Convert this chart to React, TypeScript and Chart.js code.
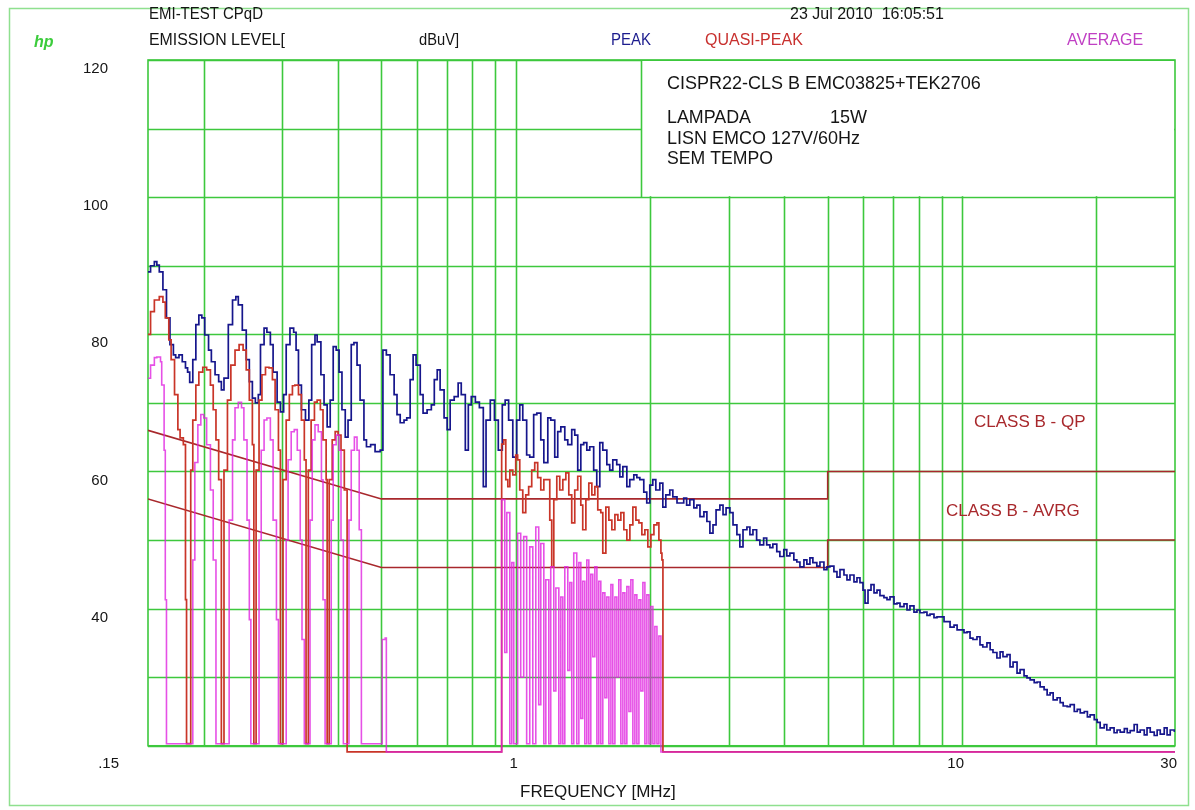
import React, { useEffect, useRef } from "react";
import { Chart, registerables } from "chart.js";

Chart.register(...registerables);

// ---------- DATA ----------
const peakFreqMHz = [
  0.150, 0.152, 0.155, 0.157, 0.159, 0.162, 0.165, 0.168, 0.171, 0.173, 0.176, 0.179, 0.182, 0.184, 0.186,
  0.189, 0.192, 0.195, 0.198, 0.201, 0.205, 0.208, 0.212, 0.216, 0.219, 0.222, 0.227, 0.232, 0.236, 0.239,
  0.244, 0.249, 0.253, 0.257, 0.261, 0.265, 0.268, 0.273, 0.277, 0.282, 0.286, 0.292, 0.297, 0.302, 0.306,
  0.312, 0.318, 0.322, 0.326, 0.331, 0.338, 0.344, 0.349, 0.355, 0.359, 0.366, 0.372, 0.378, 0.384, 0.390,
  0.396, 0.402, 0.408, 0.415, 0.421, 0.428, 0.434, 0.441, 0.448, 0.457, 0.463, 0.473, 0.484, 0.491, 0.497,
  0.504, 0.513, 0.523, 0.534, 0.542, 0.551, 0.562, 0.570, 0.580, 0.589, 0.598, 0.611, 0.620, 0.633, 0.647,
  0.657, 0.667, 0.677, 0.691, 0.702, 0.713, 0.728, 0.743, 0.755, 0.771, 0.783, 0.795, 0.812, 0.829, 0.846,
  0.858, 0.877, 0.896, 0.914, 0.933, 0.947, 0.964, 0.985, 1.005, 1.021, 1.037, 1.058, 1.075, 1.097, 1.115,
  1.138, 1.156, 1.180, 1.198, 1.223, 1.242, 1.262, 1.288, 1.308, 1.335, 1.356, 1.377, 1.399, 1.420, 1.443,
  1.465, 1.495, 1.519, 1.543, 1.567, 1.600, 1.624, 1.650, 1.684, 1.711, 1.738, 1.774, 1.801, 1.839, 1.868,
  1.897, 1.936, 1.966, 1.997, 2.028, 2.060, 2.103, 2.136, 2.169, 2.214, 2.249, 2.298, 2.332, 2.379, 2.415,
  2.455, 2.507, 2.546, 2.587, 2.640, 2.681, 2.723, 2.767, 2.811, 2.867, 2.914, 2.960, 3.019, 3.068, 3.130,
  3.178, 3.230, 3.296, 3.347, 3.400, 3.465, 3.524, 3.593, 3.650, 3.711, 3.768, 3.845, 3.907, 3.987, 4.049,
  4.114, 4.199, 4.264, 4.333, 4.423, 4.491, 4.562, 4.632, 4.727, 4.804, 4.904, 4.981, 5.058, 5.163, 5.245,
  5.327, 5.438, 5.523, 5.609, 5.726, 5.815, 5.906, 5.999, 6.062, 6.156, 6.252, 6.350, 6.449, 6.548, 6.684,
  6.789, 6.896, 7.039, 7.149, 7.261, 7.412, 7.528, 7.644, 7.803, 7.925, 8.049, 8.216, 8.344, 8.477, 8.652,
  8.788, 8.927, 9.112, 9.256, 9.400, 9.596, 9.747, 9.897, 10.10, 10.26, 10.42, 10.58, 10.80, 10.97, 11.13,
  11.37, 11.56, 11.73, 11.97, 12.17, 12.35, 12.61, 12.81, 13.01, 13.28, 13.49, 13.77, 13.98, 14.21, 14.51,
  14.73, 14.96, 15.27, 15.51, 15.75, 16.00, 16.33, 16.59, 16.85, 17.20, 17.47, 17.84, 18.12, 18.40, 18.79,
  19.09, 19.36, 19.78, 20.08, 20.39, 20.82, 21.10, 21.47, 21.91, 22.25, 22.61, 23.10, 23.45, 23.81, 24.30,
  24.69, 25.07, 25.60, 25.97, 26.40, 26.95, 27.36, 27.80, 28.38, 28.80, 29.27, 29.90,
];
const peakDbuV = [
  89.1, 90.0, 90.6, 90.1, 89.1, 86.5, 82.4, 78.5, 77.0, 76.6, 77.0, 76.0, 75.1, 74.5, 73.0,
  76.3, 81.4, 82.8, 82.4, 79.9, 77.7, 76.0, 74.1, 73.1, 71.9, 73.6, 81.4, 85.0, 85.5, 84.3,
  80.6, 76.3, 73.1, 70.7, 70.0, 71.2, 78.5, 80.9, 80.3, 78.5, 74.5, 70.1, 68.7, 71.2, 78.5,
  80.9, 80.3, 77.7, 72.6, 69.0, 67.5, 70.4, 78.5, 79.9, 78.9, 74.1, 69.7, 66.5, 70.4, 78.2,
  77.7, 74.5, 69.0, 65.0, 67.5, 78.5, 78.8, 75.5, 70.4, 64.6, 63.6, 63.9, 62.9, 62.9, 63.1,
  77.7, 77.0, 74.1, 71.2, 68.3, 67.1, 67.5, 67.8, 73.4, 77.0, 75.5, 71.2, 68.5, 69.0, 69.7,
  73.4, 74.8, 71.9, 67.8, 66.1, 70.4, 70.9, 72.9, 71.2, 63.1, 69.7, 70.9, 70.1, 69.3, 57.8,
  67.5, 70.4, 67.5, 63.1, 69.7, 70.4, 67.5, 62.1, 67.5, 69.7, 67.5, 62.4, 62.1, 68.3, 68.5,
  64.6, 61.3, 67.8, 67.5, 62.1, 65.8, 66.5, 64.6, 63.9, 66.1, 65.3, 60.2, 63.9, 64.2, 63.1,
  63.6, 60.2, 57.8, 64.2, 63.1, 61.0, 60.2, 61.7, 61.0, 59.2, 60.7, 57.8, 58.8, 59.5, 59.1,
  58.8, 57.0, 55.4, 58.0, 58.8, 57.3, 58.3, 54.8, 56.6, 57.3, 56.3, 55.4, 55.4, 56.1, 55.1,
  55.9, 54.7, 55.1, 53.4, 54.1, 52.7, 51.0, 52.2, 54.4, 55.1, 53.7, 54.7, 54.0, 52.2, 50.8,
  49.0, 51.5, 51.9, 50.8, 51.5, 50.0, 49.3, 50.3, 49.3, 48.9, 49.4, 48.3, 47.6, 48.6, 47.7,
  48.1, 47.1, 46.8, 46.1, 47.1, 46.5, 47.4, 46.7, 46.2, 46.8, 45.7, 46.1, 46.2, 45.4, 44.6,
  45.7, 44.9, 44.2, 44.9, 43.9, 44.5, 43.8, 42.7, 40.8, 42.7, 43.5, 42.3, 42.7, 41.9, 41.6,
  41.3, 41.7, 40.7, 40.8, 40.3, 40.7, 39.8, 40.4, 39.5, 39.8, 39.4, 39.5, 39.0, 39.2, 38.7,
  38.8, 38.8, 38.1, 38.1, 37.3, 37.6, 36.9, 36.9, 36.5, 36.6, 35.7, 35.5, 35.9, 34.7, 34.4,
  35.0, 34.0, 33.6, 32.8, 33.7, 33.0, 33.3, 31.5, 32.2, 30.6, 31.1, 30.2, 29.9, 29.6, 29.2,
  29.3, 28.6, 28.2, 27.4, 27.7, 26.7, 27.0, 26.3, 25.8, 25.7, 26.0, 25.0, 25.3, 24.8, 25.0,
  24.2, 24.5, 23.8, 23.4, 22.6, 23.1, 22.3, 22.6, 21.9, 22.3, 22.0, 22.5, 21.9, 22.2, 23.1,
  22.0, 22.3, 21.6, 22.6, 22.0, 21.5, 22.3, 21.7, 22.6, 21.6, 22.3, 22.0,
];

const qpFreqMHz = [
  0.150, 0.152, 0.155, 0.159, 0.162, 0.164, 0.167, 0.169, 0.172, 0.175, 0.177, 0.180, 0.182, 0.183,
  0.187, 0.189, 0.192, 0.195, 0.199, 0.203, 0.207, 0.210, 0.213, 0.216, 0.219,
  0.222, 0.226, 0.230, 0.235, 0.240, 0.245, 0.249, 0.253, 0.257, 0.259,
  0.262, 0.266, 0.270, 0.275, 0.280, 0.285, 0.289, 0.294, 0.297,
  0.301, 0.306, 0.311, 0.316, 0.320, 0.326, 0.331, 0.336, 0.339,
  0.343, 0.348, 0.354, 0.359, 0.365, 0.370, 0.376, 0.378,
  0.382, 0.388, 0.394, 0.400, 0.406, 0.413, 0.419,
  0.930, 0.940, 0.950, 0.960, 0.970, 0.985, 1.000, 1.010, 1.021, 1.037, 1.053, 1.069, 1.086, 1.103,
  1.120, 1.138, 1.156, 1.174, 1.192, 1.204, 1.217, 1.236, 1.255, 1.275, 1.295, 1.315, 1.335, 1.356,
  1.377, 1.399, 1.413, 1.436, 1.458, 1.481, 1.504, 1.527, 1.551, 1.567, 1.592, 1.617, 1.642, 1.668,
  1.694, 1.720, 1.747, 1.774, 1.802, 1.830, 1.859, 1.888, 1.917, 1.947, 1.977, 2.008, 2.040, 2.072,
  2.093, 2.115, 2.126, 2.137, 30.0,
];
const qpDbuV = [
  80.0, 83.3, 85.0, 85.5, 84.7, 82.4, 79.2, 76.3, 71.2, 66.1, 64.9, 63.9, 41.3, 20.3,
  60.2, 67.5, 72.6, 74.5, 75.2, 74.8, 72.6, 69.0, 64.6, 58.8, 20.3,
  60.2, 70.4, 75.5, 77.7, 78.5, 77.7, 74.8, 70.4, 63.9, 20.3,
  60.2, 70.4, 74.1, 75.2, 75.1, 73.4, 69.0, 63.1, 20.3,
  58.8, 67.5, 71.2, 72.5, 72.6, 71.2, 67.5, 61.7, 20.3,
  60.2, 67.5, 70.1, 70.4, 69.0, 64.6, 58.8, 20.3,
  58.8, 64.6, 65.8, 65.3, 63.1, 57.3, 19.1,
  64.0, 64.6, 58.8, 57.8, 60.2, 59.5, 62.4, 61.7, 57.3, 54.0, 56.6, 57.8, 60.2, 61.3,
  59.1, 57.3, 58.8, 58.8, 52.9, 46.1, 55.9, 59.3, 57.3, 58.8, 59.8, 56.6, 52.5, 57.3,
  59.3, 55.1, 51.5, 55.9, 58.3, 56.6, 57.8, 54.4, 54.0, 48.1, 54.8, 52.9, 51.5, 53.7,
  52.9, 54.0, 51.5, 50.0, 52.2, 54.8, 52.9, 52.5, 50.8, 51.5, 49.0, 50.8, 52.2, 52.5,
  50.0, 48.1, 47.1, 19.1, 19.1,
];

const avgFreqMHz = [
  0.150, 0.152, 0.155, 0.157, 0.160, 0.161, 0.163, 0.164, 0.165,
  0.189, 0.191, 0.194, 0.197, 0.200, 0.203, 0.207, 0.210, 0.213,
  0.228, 0.232, 0.235, 0.239, 0.243, 0.246, 0.250, 0.253, 0.255,
  0.266, 0.269, 0.273, 0.277, 0.282, 0.286, 0.291, 0.294,
  0.306, 0.309, 0.314, 0.319, 0.324, 0.329, 0.332, 0.336,
  0.346, 0.350, 0.355, 0.361, 0.367, 0.370, 0.374,
  0.386, 0.390, 0.396, 0.402, 0.406, 0.411,
  0.423, 0.428, 0.435, 0.441, 0.446, 0.451,
  0.502, 0.510, 0.513,
  0.930, 0.945, 0.955, 0.970, 0.980, 0.990, 1.010, 1.026, 1.042, 1.058, 1.075, 1.092, 1.109, 1.126,
  1.138, 1.156, 1.168, 1.186, 1.198, 1.217, 1.230, 1.249, 1.262, 1.275, 1.288, 1.308, 1.322, 1.335,
  1.349, 1.370, 1.385, 1.399, 1.413, 1.428, 1.443, 1.458, 1.473, 1.488, 1.504, 1.520, 1.535, 1.551,
  1.567, 1.584, 1.600, 1.617, 1.634, 1.650, 1.668, 1.685, 1.702, 1.720, 1.738, 1.756, 1.774, 1.793,
  1.811, 1.830, 1.849, 1.868, 1.888, 1.907, 1.927, 1.947, 1.967, 1.988, 2.008, 2.029, 2.050, 2.072,
  2.093, 2.115, 30.0,
];
const avgDbuV = [
  73.6, 75.5, 76.6, 76.7, 76.0, 72.6, 63.1, 41.3, 20.3,
  47.1, 61.3, 66.8, 68.3, 67.8, 63.9, 57.3, 47.1, 20.3,
  52.9, 64.6, 69.3, 70.1, 69.3, 64.6, 52.9, 38.4, 20.3,
  50.0, 63.1, 67.5, 67.8, 64.6, 52.9, 38.4, 20.3,
  50.0, 61.7, 65.8, 66.1, 63.1, 50.0, 35.5, 20.3,
  52.9, 64.6, 66.8, 65.8, 58.8, 41.3, 20.3,
  52.9, 63.9, 65.3, 63.1, 50.0, 20.3,
  52.9, 63.1, 65.0, 63.1, 51.5, 20.3,
  35.5, 35.7, 19.1,
  55.9, 33.6, 54.0, 20.3, 46.7, 20.3, 51.0, 30.0, 50.5, 20.3, 49.0, 20.3, 51.9, 26.0,
  49.5, 20.3, 44.2, 20.3, 46.1, 28.0, 43.0, 20.3, 41.7, 20.3, 46.1, 31.0, 43.8, 20.3,
  48.1, 20.3, 46.7, 24.0, 44.0, 20.3, 47.1, 20.3, 45.0, 33.0, 46.1, 20.3, 44.0, 20.3,
  42.3, 27.0, 41.7, 20.3, 43.5, 20.3, 41.7, 30.0, 44.2, 20.3, 42.3, 20.3, 43.2, 25.0,
  44.2, 20.3, 42.0, 20.3, 41.3, 28.0, 43.8, 20.3, 42.0, 20.3, 40.3, 20.3, 37.4, 20.3,
  36.0, 19.1, 19.1,
];

const qpLimitFreqMHz = [0.15, 0.5, 5, 5, 30];
const qpLimitDbuV = [66, 56, 56, 60, 60];
const avgLimitFreqMHz = [0.15, 0.5, 5, 5, 30];
const avgLimitDbuV = [56, 46, 46, 50, 50];

const yGridValues = [20, 30, 40, 50, 60, 70, 80, 90, 100, 110, 120];
const yTickValues = [120, 100, 80, 60, 40];
const xGridValues = [0.2, 0.3, 0.4, 0.5, 0.6, 0.7, 0.8, 0.9, 1, 2, 3, 4, 5, 6, 7, 8, 9, 10, 20];
const xTickValues = [0.15, 1, 10, 30];
const xTickLabels = [".15", "1", "10", "30"];

// ---------- STYLE ----------
const GRID = "#3dc83d";
const FRAME = "#8fe08f";
const PEAK_C = "#16168c";
const QP_C = "#c93528";
const AVG_C = "rgba(224,36,224,0.8)";
const LIMIT_C = "#a8282c";
const FONT = "'Liberation Sans', Arial, sans-serif";

const toPoints = (f: number[], v: number[]) => f.map((x, i) => ({ x, y: v[i] }));

function txt(ctx: CanvasRenderingContext2D, s: string, x: number, y: number, w?: number) {
  if (w) ctx.fillText(s, x, y, w);
  else ctx.fillText(s, x, y);
}

const decorPlugin = {
  id: "decor",
  beforeDatasetsDraw(chart: any) {
    const { ctx, scales } = chart;
    const xs = scales.x;
    const ys = scales.y;
    const left = xs.getPixelForValue(0.15);
    const right = xs.getPixelForValue(30);
    const top = ys.getPixelForValue(120);
    const bot = ys.getPixelForValue(20);
    ctx.save();
    ctx.strokeStyle = GRID;
    ctx.lineWidth = 1.6;
    ctx.beginPath();
    for (const v of yGridValues) {
      const y = Math.round(ys.getPixelForValue(v)) + 0.5;
      ctx.moveTo(left, y);
      ctx.lineTo(right, y);
    }
    for (const f of xGridValues) {
      const x = Math.round(xs.getPixelForValue(f)) + 0.5;
      ctx.moveTo(x, top);
      ctx.lineTo(x, bot);
    }
    ctx.stroke();
    ctx.strokeRect(left, top, right - left, bot - top);

    // annotation box (covers grid)
    const bx = left + 493;
    const by = top;
    const bh = ys.getPixelForValue(100) - top;
    ctx.fillStyle = "#ffffff";
    ctx.fillRect(bx, by + 1, right - bx - 1, bh - 2);
    ctx.beginPath();
    ctx.moveTo(bx + 0.5, by);
    ctx.lineTo(bx + 0.5, by + bh);
    ctx.stroke();

    ctx.fillStyle = "#151515";
    ctx.textBaseline = "middle";
    ctx.textAlign = "left";
    ctx.font = `18px ${FONT}`;
    txt(ctx, "CISPR22-CLS B EMC03825+TEK2706", bx + 26, 84, 320);
    txt(ctx, "LAMPADA", bx + 26, 118, 84);
    txt(ctx, "15W", bx + 189, 118, 37);
    txt(ctx, "LISN EMCO 127V/60Hz", bx + 26, 139, 201);
    txt(ctx, "SEM TEMPO", bx + 26, 159, 106);
    ctx.restore();
  },
  afterDraw(chart: any) {
    const { ctx, scales } = chart;
    const xs = scales.x;
    const ys = scales.y;
    ctx.save();
    // outer frame
    ctx.strokeStyle = FRAME;
    ctx.lineWidth = 1.5;
    ctx.strokeRect(9.5, 8.5, 1179, 797);

    ctx.textBaseline = "middle";
    ctx.font = `bold italic 16px ${FONT}`;
    ctx.fillStyle = "#3ccc3c";
    ctx.textAlign = "left";
    txt(ctx, "hp", 34, 43);

    ctx.font = `16px ${FONT}`;
    ctx.fillStyle = "#151515";
    txt(ctx, "EMI-TEST CPqD", 149, 15, 114);
    txt(ctx, "EMISSION LEVEL[", 149, 41, 136);
    txt(ctx, "dBuV]", 419, 41, 40);
    txt(ctx, "23 Jul 2010  16:05:51", 790, 15, 162);
    ctx.fillStyle = "#1c1c8e";
    txt(ctx, "PEAK", 611, 41, 40);
    ctx.fillStyle = "#c8302e";
    txt(ctx, "QUASI-PEAK", 705, 41, 110);
    ctx.fillStyle = "#c040c4";
    txt(ctx, "AVERAGE", 1067, 41, 77);

    ctx.fillStyle = LIMIT_C;
    ctx.font = `17px ${FONT}`;
    txt(ctx, "CLASS B - QP", 974, 422, 120);
    txt(ctx, "CLASS B - AVRG", 946, 511, 142);

    ctx.fillStyle = "#151515";
    ctx.font = `15px ${FONT}`;
    ctx.textAlign = "right";
    for (const v of yTickValues) {
      txt(ctx, String(v), 108, ys.getPixelForValue(v) + 9);
    }
    xTickValues.forEach((f, i) => {
      const px = i === 0 ? 119 : xs.getPixelForValue(f) + 2;
      txt(ctx, xTickLabels[i], px, 764);
    });
    ctx.textAlign = "left";
    ctx.font = `17px ${FONT}`;
    txt(ctx, "FREQUENCY [MHz]", 520, 792, 172);
    ctx.restore();
  },
};

export default function App() {
  const ref = useRef<HTMLCanvasElement>(null);
  useEffect(() => {
    if (!ref.current) return;
    const chart = new Chart(ref.current, {
      type: "line",
      data: {
        datasets: [
          {
            label: "AVERAGE",
            data: toPoints(avgFreqMHz, avgDbuV),
            borderColor: AVG_C,
            borderWidth: 1.6,
            stepped: true,
            pointRadius: 0,
            order: 0,
          },
          {
            label: "QUASI-PEAK",
            data: toPoints(qpFreqMHz, qpDbuV),
            borderColor: QP_C,
            borderWidth: 1.7,
            stepped: true,
            pointRadius: 0,
            order: 1,
          },
          {
            label: "PEAK",
            data: toPoints(peakFreqMHz, peakDbuV),
            borderColor: PEAK_C,
            borderWidth: 1.7,
            stepped: true,
            pointRadius: 0,
            order: 2,
          },
          {
            label: "CLASS B - QP",
            data: toPoints(qpLimitFreqMHz, qpLimitDbuV),
            borderColor: LIMIT_C,
            borderWidth: 1.6,
            pointRadius: 0,
            order: 3,
          },
          {
            label: "CLASS B - AVRG",
            data: toPoints(avgLimitFreqMHz, avgLimitDbuV),
            borderColor: LIMIT_C,
            borderWidth: 1.6,
            pointRadius: 0,
            order: 3,
          },
        ],
      },
      options: {
        responsive: false,
        animation: false,
        events: [],
        layout: { padding: { left: 148, top: 60, right: 20, bottom: 56 } },
        scales: {
          x: { type: "logarithmic", min: 0.15, max: 30, display: false },
          y: { type: "linear", min: 18.8, max: 120, display: false },
        },
        plugins: { legend: { display: false }, tooltip: { enabled: false } },
      },
      plugins: [decorPlugin],
    });
    return () => chart.destroy();
  }, []);
  return (
    <canvas
      ref={ref}
      width={1195}
      height={810}
      style={{ position: "absolute", left: 0, top: 0, width: 1195, height: 810 }}
    />
  );
}
